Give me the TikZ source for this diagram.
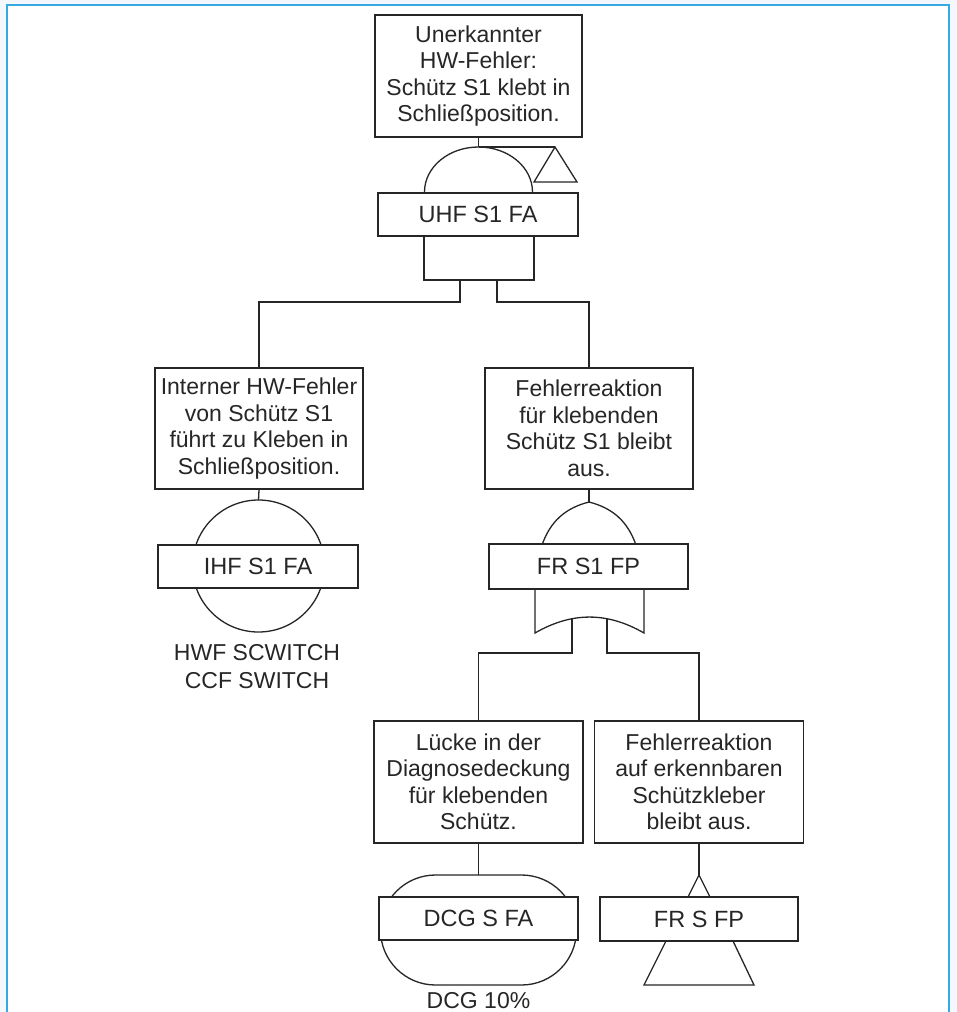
\documentclass[tikz,border=0pt]{standalone}
\usepackage{fontspec}
\setmainfont{Liberation Sans}
\definecolor{framebg}{HTML}{F2F8FE}
\definecolor{frameline}{HTML}{36A9E1}
\definecolor{ink}{HTML}{262626}
\begin{document}
\begin{tikzpicture}[x=1pt,y=-1pt,
  line join=miter,
  lw/.style={draw=ink,line width=1.3pt},
  desc/.style={lw,fill=white,rectangle,inner sep=0pt,align=center,text=ink,
    font=\fontsize{23}{26.5}\selectfont,minimum width=208pt,minimum height=121pt},
  gatebox/.style={lw,fill=white,rectangle,inner sep=0pt,text=ink,
    font=\fontsize{23.5}{27}\selectfont,minimum width=200pt,minimum height=43pt},
  plain/.style={inner sep=0pt,align=center,text=ink,font=\fontsize{23}{27.5}\selectfont}]
\useasboundingbox (0,0) rectangle (957,1012);
% page background and framed panel
\fill[framebg] (0,0) rectangle (957,1012);
\fill[white] (7,5) rectangle (949,1012);
\draw[frameline,line width=2pt] (7,1012) -- (7,5) -- (949,5) -- (949,1012);

% ---------- top event ----------
\node[desc,minimum width=207pt,minimum height=122pt] (top) at (478.5,76)
  {Unerkannter\\HW-Fehler:\\Schütz S1 klebt in\\Schließposition.};
\coordinate (gA) at (478.5,147);
% AND gate dome
\draw[lw,fill=white] (424.5,192) .. controls (424.5,167.1) and (448.7,147) .. (gA)
  .. controls (508.3,147) and (532.5,167.1) .. (532.5,192);
% transfer triangle
\coordinate (trA) at (555,147);
\draw[lw] (gA) -- (trA);
\draw[lw] (trA) -- (577,182) -- (534,182) -- cycle;
% AND gate base
\draw[lw] (424,236) -- (424,280) -- (534,280) -- (534,236);
\node[gatebox] (uhf) at (478,214.5) {UHF S1 FA};
\draw[lw] (top.south) -- (gA);

% ---------- left branch ----------
\node[desc] (L) at (259,428.5)
  {Interner HW-Fehler\\von Schütz S1\\führt zu Kleben in\\Schließposition.};
\coordinate (bL) at (258.5,500);
\draw[lw,fill=white] (258.5,566) circle[radius=66];
\node[gatebox] (ihf) at (258,566.5) {IHF S1 FA};
\draw[lw] (L.south) -- (bL);
\node[plain,anchor=base] (hwf) at (257,660) {HWF SCWITCH};
\node[plain,anchor=base] (ccf) at (257,688) {CCF SWITCH};

% ---------- right branch ----------
\node[desc] (R) at (589,428.5)
  {Fehlerreaktion\\für klebenden\\Schütz S1 bleibt\\aus.};
\coordinate (gO) at (589,502);
% OR gate
\draw[lw,fill=white] (542,545) to[bend left=28] (gO) to[bend left=28] (636,545);
\draw[lw,fill=white] (535,588) -- (535,633) to[bend left=30] (644,633) -- (644,588);
\node[gatebox,minimum width=199pt,minimum height=45pt] (fr1) at (588.5,566.5) {FR S1 FP};
\draw[lw] (R.south) -- (gO);

% ---------- lower level ----------
\node[desc,minimum width=209pt,minimum height=122pt] (BL) at (478.5,782)
  {Lücke in der\\Diagnosedeckung\\für klebenden\\Schütz.};
\node[desc,minimum width=209pt,minimum height=122pt] (BR) at (699,782)
  {Fehlerreaktion\\auf erkennbaren\\Schützkleber\\bleibt aus.};

% conditioning event
\coordinate (cTop) at (478.5,875);
\draw[lw,fill=white,rounded corners=55pt] (380.5,875) rectangle (576.5,985);
\node[gatebox,minimum width=199pt] (dcg) at (478.5,918.5) {DCG S FA};
\node[plain,anchor=base] (dcgv) at (478.5,1008) {DCG 10\%};
\draw[lw] (BL.south) -- (cTop);

% transfer-in event
\coordinate (tIn) at (699,875);
\draw[lw] (tIn) -- (710,897) -- (688,897) -- cycle;
\draw[lw] (666,941) -- (644,985) -- (754,985) -- (733,941);
\node[gatebox,minimum width=198pt,minimum height=44pt] (frs) at (699,919) {FR S FP};
\draw[lw] (BR.south) -- (tIn);

% ---------- gate outputs to children ----------
\coordinate (andL) at (460,280);
\coordinate (andR) at (497,280);
\draw[lw] (andL) -- (460,302) -| (L.north);
\draw[lw] (andR) -- (497,302) -| (R.north);
\coordinate (orL) at (572,618.5);
\coordinate (orR) at (607,618.5);
\draw[lw] (orL) -- (572,653) -| (BL.north);
\draw[lw] (orR) -- (607,653) -| (BR.north);
\end{tikzpicture}
\end{document}
